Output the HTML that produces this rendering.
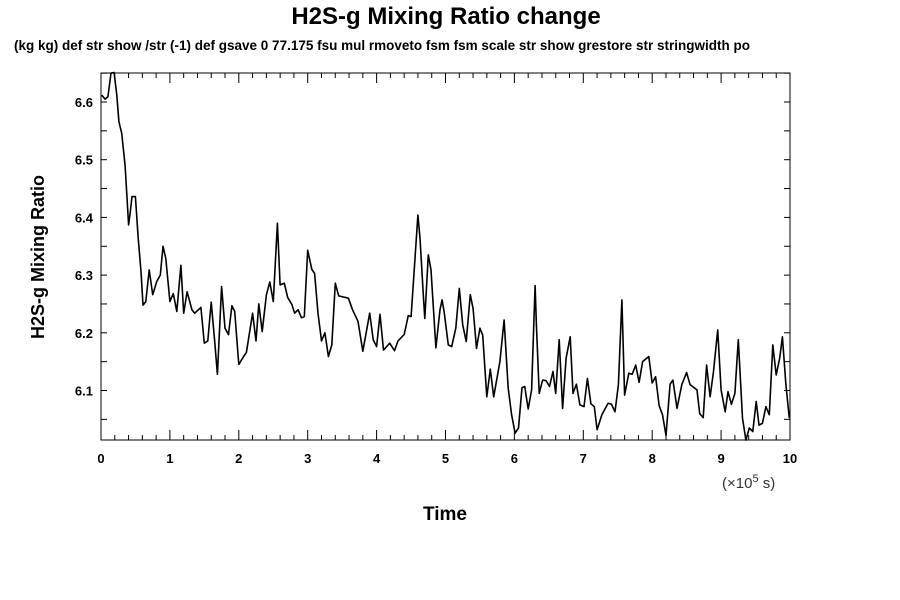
<!DOCTYPE html>
<html><head><meta charset="utf-8"><style>
body{margin:0;background:#fff;}
svg{display:block;font-family:"Liberation Sans",sans-serif;}
</style></head><body>
<svg id="chart" width="900" height="600" viewBox="0 0 900 600">
<rect width="900" height="600" fill="#fff"/>
<text x="446" y="24" text-anchor="middle" font-size="24" font-weight="bold">H2S-g Mixing Ratio change</text>
<text x="14" y="50" font-size="13.5" font-weight="bold">(kg kg) def str show /str (-1) def gsave 0 77.175 fsu mul rmoveto fsm fsm scale str show grestore str stringwidth po</text>
<text transform="translate(44,257) rotate(-90)" text-anchor="middle" font-size="18" font-weight="bold">H2S-g Mixing Ratio</text>
<text x="445" y="520" text-anchor="middle" font-size="19" font-weight="bold">Time</text>
<text x="722" y="488" font-size="15" fill="#333">(×10<tspan dy="-6" font-size="11">5</tspan><tspan dy="6"> s)</tspan></text>
<g id="axes"></g>
<path id="line" fill="none" stroke="#000" stroke-width="1.6" stroke-linejoin="round"/>
<rect x="101" y="73" width="689" height="367" fill="none" stroke="#000" stroke-width="1"/>
</svg>
<script>
const xTickLabels = ["0","1","2","3","4","5","6","7","8","9","10"];
const yTickValues = [6.1,6.2,6.3,6.4,6.5,6.6];
const yTickLabels = ["6.1","6.2","6.3","6.4","6.5","6.6"];
const times = [0.01,0.06,0.10,0.145,0.19,0.23,0.26,0.30,0.35,0.40,0.42,0.45,0.50,0.54,0.58,0.61,0.65,0.70,0.75,0.81,0.86,0.90,0.94,1.00,1.05,1.10,1.16,1.20,1.25,1.32,1.36,1.45,1.50,1.55,1.60,1.65,1.69,1.75,1.80,1.85,1.90,1.94,2.00,2.07,2.11,2.20,2.25,2.29,2.34,2.40,2.45,2.50,2.56,2.60,2.66,2.71,2.77,2.81,2.86,2.91,2.95,3.00,3.06,3.10,3.15,3.20,3.25,3.30,3.35,3.40,3.45,3.59,3.65,3.73,3.80,3.86,3.90,3.95,4.00,4.05,4.10,4.19,4.26,4.31,4.40,4.46,4.50,4.60,4.63,4.68,4.70,4.75,4.79,4.82,4.86,4.92,4.95,4.98,5.04,5.09,5.15,5.20,5.25,5.30,5.36,5.40,5.45,5.50,5.54,5.60,5.65,5.70,5.79,5.85,5.91,5.96,6.01,6.06,6.11,6.15,6.20,6.25,6.30,6.32,6.36,6.41,6.46,6.51,6.56,6.60,6.65,6.70,6.75,6.81,6.85,6.90,6.95,7.01,7.06,7.11,7.16,7.20,7.27,7.36,7.41,7.46,7.51,7.56,7.60,7.66,7.71,7.76,7.81,7.86,7.95,8.00,8.05,8.10,8.15,8.20,8.26,8.30,8.36,8.43,8.50,8.55,8.65,8.69,8.74,8.79,8.84,8.89,8.95,9.00,9.06,9.10,9.15,9.20,9.25,9.31,9.36,9.41,9.46,9.51,9.55,9.60,9.65,9.70,9.75,9.80,9.85,9.89,9.94,9.99];
const ratios = [6.612,6.605,6.609,6.650,6.651,6.612,6.566,6.546,6.49,6.387,6.404,6.436,6.436,6.364,6.306,6.248,6.254,6.309,6.266,6.289,6.30,6.35,6.329,6.254,6.268,6.237,6.317,6.234,6.271,6.24,6.234,6.244,6.182,6.186,6.253,6.185,6.128,6.28,6.208,6.197,6.247,6.237,6.145,6.159,6.166,6.234,6.186,6.25,6.202,6.266,6.288,6.254,6.39,6.283,6.286,6.261,6.249,6.234,6.24,6.226,6.228,6.343,6.31,6.303,6.234,6.186,6.2,6.159,6.179,6.286,6.264,6.26,6.24,6.22,6.168,6.208,6.234,6.188,6.176,6.232,6.17,6.182,6.169,6.186,6.197,6.23,6.228,6.404,6.364,6.26,6.225,6.335,6.309,6.251,6.174,6.24,6.257,6.237,6.179,6.176,6.208,6.277,6.214,6.185,6.266,6.242,6.173,6.208,6.196,6.089,6.137,6.089,6.15,6.222,6.104,6.058,6.026,6.035,6.105,6.107,6.068,6.101,6.282,6.214,6.095,6.118,6.117,6.107,6.133,6.095,6.188,6.069,6.156,6.193,6.095,6.111,6.075,6.072,6.121,6.077,6.072,6.032,6.058,6.078,6.076,6.063,6.11,6.257,6.092,6.13,6.128,6.144,6.114,6.15,6.159,6.113,6.124,6.074,6.058,6.022,6.111,6.118,6.069,6.11,6.131,6.11,6.101,6.06,6.053,6.144,6.089,6.133,6.205,6.101,6.063,6.098,6.076,6.095,6.188,6.052,6.014,6.035,6.029,6.081,6.04,6.043,6.072,6.058,6.179,6.127,6.156,6.193,6.11,6.052];

const X0=101,X1=790,Y0=73,Y1=440;
function xs(t){return X0+(X1-X0)*t/10;}
function ys(v){return 102+(6.6-v)*577;}
const NS="http://www.w3.org/2000/svg";
const axes=document.getElementById('axes');
function line(x1,y1,x2,y2,name){
  const l=document.createElementNS(NS,'line');
  l.setAttribute('x1',x1);l.setAttribute('y1',y1);l.setAttribute('x2',x2);l.setAttribute('y2',y2);
  l.setAttribute('stroke','#000');l.setAttribute('stroke-width','1');
  
  
  axes.appendChild(l);
}
function text(x,y,s,anchor,name){
  const t=document.createElementNS(NS,'text');
  t.setAttribute('x',x);t.setAttribute('y',y);t.setAttribute('text-anchor',anchor);
  t.setAttribute('font-size','13');t.setAttribute('font-weight','bold');
  t.textContent=s;
  
  
  axes.appendChild(t);
}
for(let i=0;i<=50;i++){
  const x=xs(i/5); const len=(i%5===0)?10:5;
  line(x,Y1,x,Y1-len,'x-tick');
  line(x,Y0,x,Y0+len,'x-tick-top');
}
xTickLabels.forEach((s,i)=>text(xs(+s),463,s,'middle','x-tick-label'));
for(let k=0;k<14;k++){
  const v=6.05+k*0.05; const y=ys(v);
  if(y<Y0||y>Y1) continue;
  line(X0,y,X0+6,y,'y-tick');
  line(X1,y,X1-6,y,'y-tick-right');
}
yTickValues.forEach((v,i)=>text(93,ys(v)+5,yTickLabels[i],'end','y-tick-label'));
let d='';
times.forEach((t,i)=>{d+=(i?'L':'M')+xs(t).toFixed(1)+','+ys(ratios[i]).toFixed(1);});
document.getElementById('line').setAttribute('d',d);
</script>
</body></html>
